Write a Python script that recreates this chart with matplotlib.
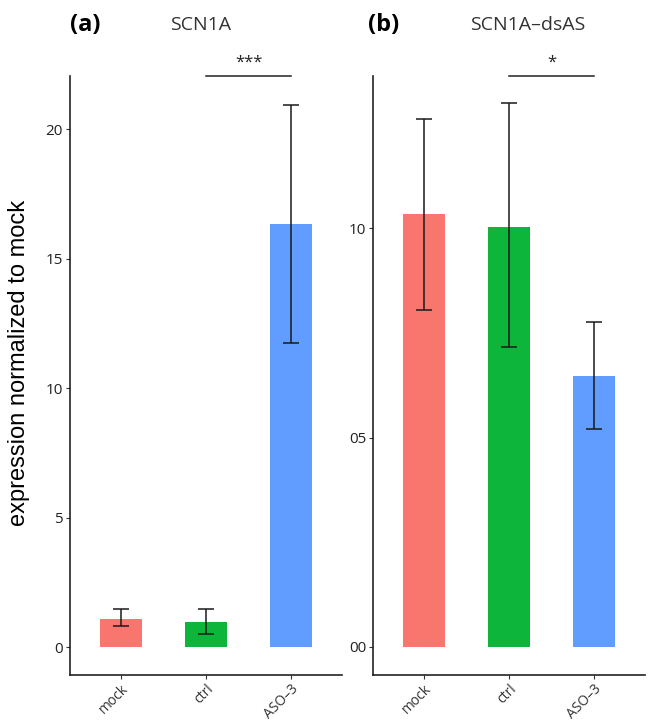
import numpy as np
import matplotlib
matplotlib.use("Agg")
from matplotlib import pyplot as plt

plt.rcParams['font.family'] = ['Open Sans', 'DejaVu Sans']

groups = ['mock', 'ctrl', 'ASO\u20133']
colors = ['#F8766D', '#0DB63A', '#619CFF']

# panel (a) SCN1A
a_mean = [1.1, 0.97, 16.35]
a_low = [0.8, 0.5, 11.75]
a_high = [1.45, 1.45, 20.95]
a_ticks = [0, 5, 10, 15, 20]
a_ticklabels = ['0', '5', '10', '15', '20']

# panel (b) SCN1A-dsAS
b_mean = [1.033, 1.002, 0.647]
b_low = [0.804, 0.715, 0.52]
b_high = [1.26, 1.30, 0.775]
b_ticks = [0.0, 0.5, 1.0]
b_ticklabels = ['00', '05', '10']

fig = plt.figure(figsize=(6.48, 7.25), dpi=100)
ax1 = fig.add_axes([0.108, 0.069, 0.420, 0.826])
ax2 = fig.add_axes([0.5756, 0.069, 0.420, 0.826])


def panel(ax, mean, low, high, ticks, ticklabels, ylim, sig, tag, title, title_x):
    x = np.arange(1, 4)
    ax.bar(x, mean, width=0.5, color=colors, zorder=2)
    m = np.array(mean)
    yerr = [m - np.array(low), np.array(high) - m]
    ax.errorbar(x, mean, yerr=yerr, fmt='none', ecolor='#1a1a1a',
                elinewidth=1.1, capsize=6, capthick=1.1, zorder=3)
    ax.set_xlim(0.4, 3.6)
    ax.set_ylim(*ylim)
    ax.set_xticks(x)
    ax.set_xticklabels(groups, rotation=45, ha='right', rotation_mode='anchor',
                       fontsize=10, color='#333333')
    ax.set_yticks(ticks)
    ax.set_yticklabels(ticklabels, fontsize=11, color='#222222')
    ax.tick_params(axis='both', length=3, width=0.8, color='#333333', pad=2)
    for s in ['top', 'right']:
        ax.spines[s].set_visible(False)
    for s in ['left', 'bottom']:
        ax.spines[s].set_linewidth(1.2)
        ax.spines[s].set_color('#222222')
    # significance bracket between ctrl and ASO-3
    yr = ylim[1] - ylim[0]
    ax.plot([2, 3], [ylim[1], ylim[1]], color='#222222', lw=1.1, clip_on=False)
    ax.text(2.5, ylim[1] + 0.022 * yr, sig, ha='center', va='center',
            fontsize=12, color='#222222')
    ax.text(tag, 1.085, title[0], transform=ax.transAxes, fontsize=17,
            fontweight='bold', ha='left', va='center')
    ax.text(title_x, 1.085, title[1], transform=ax.transAxes, fontsize=14,
            color='#333333', ha='center', va='center')


panel(ax1, a_mean, a_low, a_high, a_ticks, a_ticklabels, (-1.08, 22.05),
      '***', -0.0, ('(a)', 'SCN1A'), 0.48)
panel(ax2, b_mean, b_low, b_high, b_ticks, b_ticklabels, (-0.067, 1.363),
      '*', -0.02, ('(b)', 'SCN1A\u2013dsAS'), 0.57)

fig.text(0.03, 0.5, 'expression normalized to mock', rotation=90,
         ha='center', va='center', fontsize=17,
         family=['Liberation Sans', 'DejaVu Sans'])

fig.savefig('out.png', dpi=100)
